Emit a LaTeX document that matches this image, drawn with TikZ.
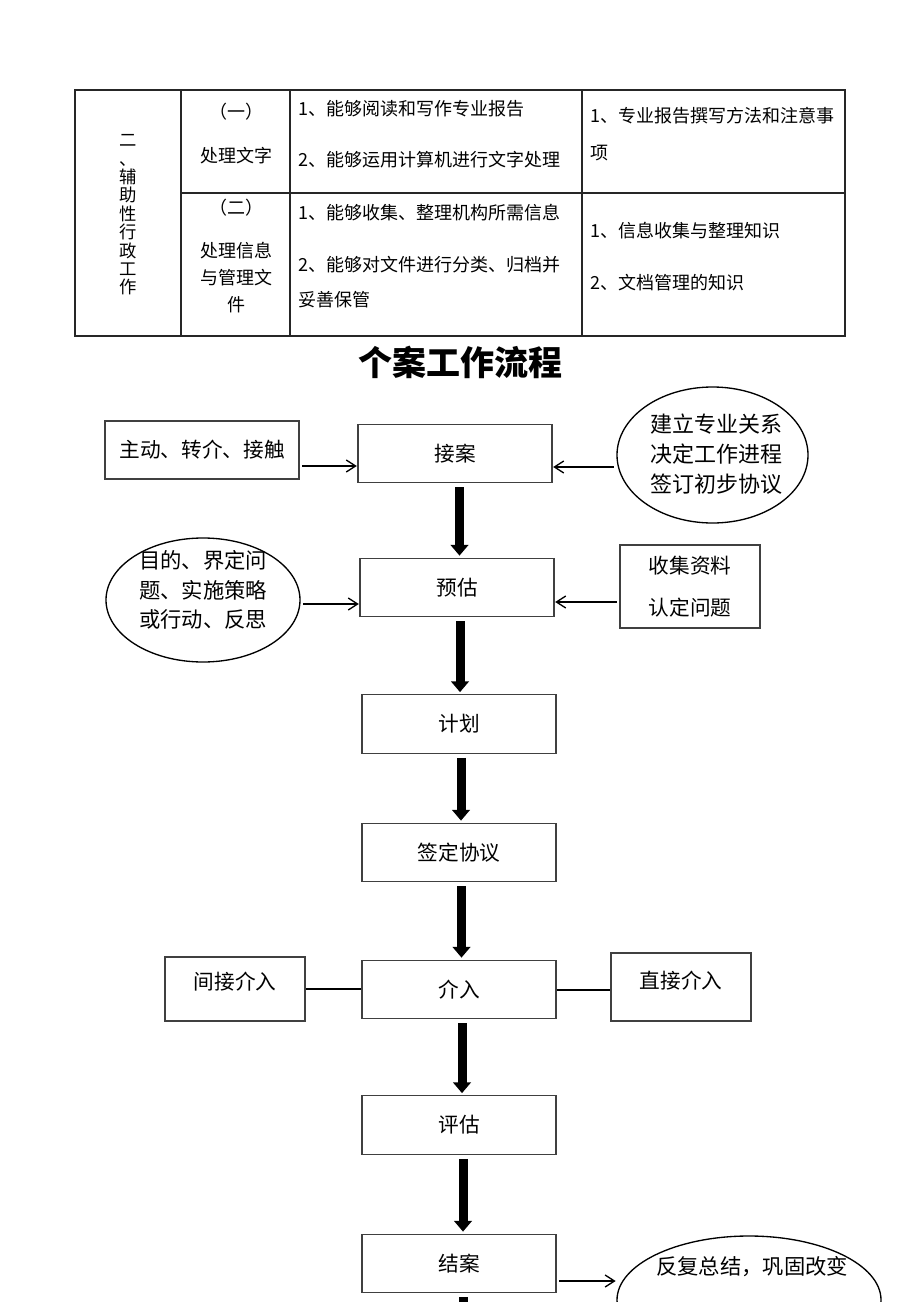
\documentclass[tikz,border=0pt]{standalone}
\usepackage{fontspec}
\setmainfont{Noto Sans CJK SC}
\usetikzlibrary{arrows.meta,shapes.geometric}
\begin{document}
\begin{tikzpicture}[x=0.75pt,y=-0.75pt,
  tline/.style={line width=0.8pt, draw=black!85},
  ttext/.style={anchor=west, inner sep=0, font=\fontsize{13.5}{16}\selectfont},
  ctext/.style={inner sep=0, font=\fontsize{13.5}{16}\selectfont, align=center},
  mainbox/.style={draw=black!75, line width=0.8pt, minimum width=145.5pt, minimum height=44pt, inner sep=0, font=\fontsize{15.5}{18}\selectfont},
  sidebox/.style={draw=black!75, line width=0.8pt, inner sep=0, font=\fontsize{15.5}{18}\selectfont, align=center},
  oval/.style={ellipse, draw=black, line width=1pt, inner sep=0},
  ovtext/.style={inner sep=0, align=center, font=\fontsize{16.5}{22.5}\selectfont},
  thickarrow/.style={line width=6.75pt, -{Triangle[width=13pt,length=8pt]}, shorten <=3pt, shorten >=1.5pt},
  thinarrow/.style={line width=1pt, -{Straight Barb[length=7pt,width=9pt]}, shorten <=2pt, shorten >=0.5pt},
  plainline/.style={line width=1pt}
]
\useasboundingbox (0,0) rectangle (920,1302);
\clip (0,0) rectangle (920,1302);
\fill[white] (0,0) rectangle (920,1302);

% ---------- table ----------
\draw[tline] (75,90) rectangle (845,336);
\draw[tline] (181,90) -- (181,336);
\draw[tline] (290,90) -- (290,336);
\draw[tline] (582,90) -- (582,336);
\draw[tline] (181,193) -- (845,193);

\node[inner sep=0, align=center, font=\fontsize{13}{13.8}\selectfont] (c1) at (128,215) {二\\、\\辅\\助\\性\\行\\政\\工\\作};

\node[ctext] (r1a) at (236,112) {（一）};
\node[ctext] (r1b) at (236,156) {处理文字};
\node[ctext] (r2a) at (236,208) {（二）};
\node[ctext, font=\fontsize{13.5}{20.2}\selectfont] (r2b) at (236,278) {处理信息\\与管理文\\件};

\node[ttext] (s1) at (298,109) {1、能够阅读和写作专业报告};
\node[ttext] (s2) at (298,160) {2、能够运用计算机进行文字处理};
\node[ttext] (s3) at (298,213) {1、能够收集、整理机构所需信息};
\node[ttext] (s4) at (298,265) {2、能够对文件进行分类、归档并};
\node[ttext] (s5) at (298,300) {妥善保管};

\node[ttext] (k1) at (590,116) {1、专业报告撰写方法和注意事};
\node[ttext] (k2) at (590,153) {项};
\node[ttext] (k3) at (590,231) {1、信息收集与整理知识};
\node[ttext] (k4) at (590,283) {2、文档管理的知识};

% ---------- title ----------
\node[inner sep=0, font=\fontsize{25.5}{30}\selectfont\bfseries] (title) at (460,362) {个案工作流程};

% ---------- main flow ----------
\node[mainbox] (ja) at (455,453.5) {接案};
\node[mainbox] (yg) at (457,587.5) {预估};
\node[mainbox] (jh) at (459,724) {计划};
\node[mainbox] (qd) at (459,852.5) {签定协议};
\node[mainbox] (jr) at (459,989.5) {介入};
\node[mainbox] (pg) at (459,1125) {评估};
\node[mainbox] (ja2) at (459,1263.5) {结案};

\coordinate (x1) at (459.5,0);
\coordinate (x2) at (460,0);
\coordinate (x3) at (461,0);
\coordinate (x4) at (461.5,0);
\coordinate (x5) at (462,0);
\coordinate (x6) at (463,0);
\coordinate (x7) at (463,0);
\coordinate (xend) at (463,1340);

\draw[thickarrow] (ja.south -| x1) -- (yg.north -| x1);
\draw[thickarrow] (yg.south -| x2) -- (jh.north -| x2);
\draw[thickarrow] (jh.south -| x3) -- (qd.north -| x3);
\draw[thickarrow] (qd.south -| x4) -- (jr.north -| x4);
\draw[thickarrow] (jr.south -| x5) -- (pg.north -| x5);
\draw[thickarrow] (pg.south -| x6) -- (ja2.north -| x6);
\draw[line width=6.75pt, shorten <=3pt] (ja2.south -| x7) -- (xend);

% ---------- side items ----------
\node[sidebox, minimum width=145.5pt, minimum height=43.5pt] (zd) at (202,450) {主动、转介、接触};
\coordinate (h1) at (0,466);
\draw[thinarrow] (zd.east |- h1) -- (ja.west |- h1);

\node[oval, minimum width=143.25pt, minimum height=102pt] (e1) at (712.5,455) {};
\node[ovtext] (e1t) at (716,454) {建立专业关系\\决定工作进程\\签订初步协议};
\coordinate (h2) at (0,467);
\draw[thinarrow] (e1.west |- h2) -- (ja.east |- h2);

\node[oval, minimum width=145.5pt, minimum height=93pt] (e2) at (203,600) {};
\node[ovtext, font=\fontsize{16}{22}\selectfont] (e2t) at (203,590) {目的、界定问\\题、实施策略\\或行动、反思};
\coordinate (h3) at (0,604);
\draw[thinarrow] (e2.east |- h3) -- (yg.west |- h3);

\node[sidebox, minimum width=105pt, minimum height=62.25pt, font=\fontsize{15.5}{32}\selectfont] (sj) at (690,586.5) {收集资料\\认定问题};
\coordinate (h4) at (0,602);
\draw[thinarrow] (sj.west |- h4) -- (yg.east |- h4);

\node[sidebox, minimum width=105pt, minimum height=48pt] (jj) at (235,989) {};
\node[inner sep=0, font=\fontsize{15.5}{18}\selectfont] (jjt) at (235,982) {间接介入};
\draw[plainline] (jj.east) -- (jr.west |- jj.east);

\node[sidebox, minimum width=105pt, minimum height=51pt] (zj) at (681,987) {};
\node[inner sep=0, font=\fontsize{15.5}{18}\selectfont] (zjt) at (681,981) {直接介入};
\draw[plainline] (jr.east |- 0,990) -- (zj.west |- 0,990);

\node[oval, minimum width=198pt, minimum height=96pt] (e3) at (749,1300) {};
\node[inner sep=0, font=\fontsize{16}{20}\selectfont] (e3t) at (752,1267) {反复总结，巩固改变};
\coordinate (h5) at (0,1281);
\draw[thinarrow] (ja2.east |- h5) -- (e3.west |- h5);
\end{tikzpicture}
\end{document}
